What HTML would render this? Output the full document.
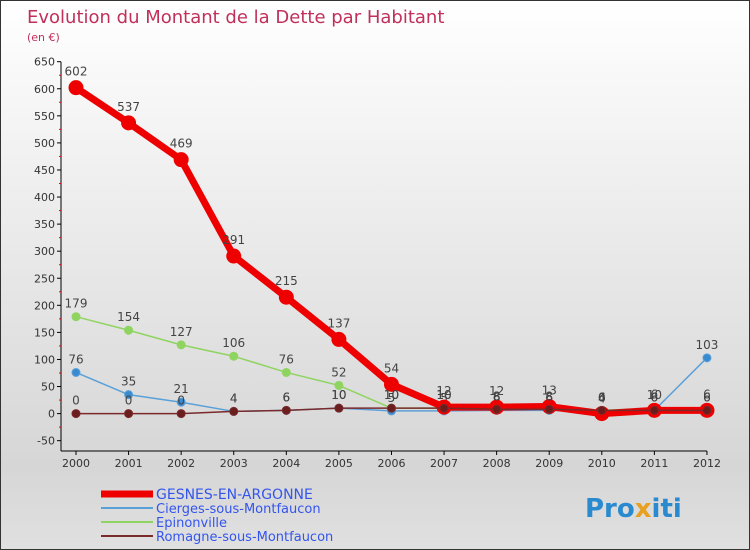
<!DOCTYPE html>
<html><head><meta charset="utf-8"><style>
body{margin:0;}
#c{width:750px;height:550px;position:relative;overflow:hidden;font-family:"DejaVu Sans","Liberation Sans",sans-serif;box-sizing:border-box;border:1px solid #333;background:linear-gradient(#fff 0%,#eee 35%,#d6d6d6 85%,#e0e0e0 100%);}
</style></head><body>
<div id="c">
<svg id="s" width="750" height="550" style="position:absolute;left:0;top:0">
<text x="26" y="22" font-size="18" fill="#c0305a">Evolution du Montant de la Dette par Habitant</text>
<text x="26" y="40" font-size="11" fill="#c0305a">(en €)</text>
<g id="axes"></g><g id="series"></g><g id="legend"></g>
<text x="584" y="516" font-size="26" font-weight="bold" fill="#2a8ad0">Pro<tspan fill="#e8a020">x</tspan><tspan fill="#2a8ad0">iti</tspan></text>
</svg>
</div>
<script>
const years=[2000,2001,2002,2003,2004,2005,2006,2007,2008,2009,2010,2011,2012];
const yTicks=[-50,0,50,100,150,200,250,300,350,400,450,500,550,600,650];
const gesnes=[602,537,469,291,215,137,54,12,12,13,0,6,6];
const cierges=[76,35,21,4,6,10,5,5,6,6,4,6,103];
const epinon=[179,154,127,106,76,52,10,10,8,6,6,10,6];
const romagne=[0,0,0,4,6,10,10,10,8,8,6,6,6];
const NS="http://www.w3.org/2000/svg";
const X=i=>75+i*52.58, Y=v=>412.6-v*0.5414;
function mk(t,a,p){const e=document.createElementNS(NS,t);for(const k in a)e.setAttribute(k,a[k]);(p||document.getElementById('axes')).appendChild(e);return e;}
let e=mk('line',{x1:60,y1:Y(650),x2:60,y2:450,stroke:'#000'});


e=mk('line',{x1:60,y1:450,x2:X(12),y2:450,stroke:'#000'});


yTicks.forEach(v=>{mk('line',{x1:56,y1:Y(v),x2:60,y2:Y(v),stroke:'#000'});
if(v<650)mk('line',{x1:58,y1:Y(v+25),x2:60,y2:Y(v+25),stroke:'#e00'});
const t=mk('text',{x:54,y:Y(v)+4,'font-size':11,'text-anchor':'end',fill:'#333'});t.textContent=v;

});
years.forEach((y,i)=>{mk('line',{x1:X(i),y1:450,x2:X(i),y2:454,stroke:'#000'});
const t=mk('text',{x:X(i),y:466,'font-size':11,'text-anchor':'middle',fill:'#333'});t.textContent=y;

});
const sg=document.getElementById('series');
function series(d,col,w,r,dot,name){
const g=mk('g',{},sg);


mk('polyline',{points:d.map((v,i)=>X(i)+','+Y(v)).join(' '),fill:'none',stroke:col,'stroke-width':w,'stroke-linejoin':'round'},g);
d.forEach((v,i)=>{const c=mk('circle',{cx:X(i),cy:Y(v),r:r,fill:dot,stroke:col,'stroke-width':1},g);


const t=mk('text',{x:X(i),y:Y(v)-9-(w>3?3:0),'font-size':12,'text-anchor':'middle',fill:'#444'},g);t.textContent=v;

});}
series(epinon,'#8fd460',1.5,4,'#8fd460','series-epinonville');
series(cierges,'#5aa0d8',1.5,4,'#3a8ad0','series-cierges');
series(gesnes,'#ee0000',7,7,'#ee0000','series-gesnes');
series(romagne,'#7a2a2a',1.5,4,'#6a1e1e','series-romagne');
const lg=document.getElementById('legend');
const leg=[['GESNES-EN-ARGONNE','#ee0000',7],['Cierges-sous-Montfaucon','#5aa0d8',2],['Epinonville','#8fd460',2],['Romagne-sous-Montfaucon','#7a2a2a',2]];
leg.forEach((l,i)=>{const y=493+i*14;
const g=mk('g',{},lg);


mk('line',{x1:100,y1:y,x2:152,y2:y,stroke:l[1],'stroke-width':l[2]},g);
const t=mk('text',{x:155,y:y+5,'font-size':i==0?14:13,fill:'#3355ee'},g);t.textContent=l[0];});
</script>
</body></html>
